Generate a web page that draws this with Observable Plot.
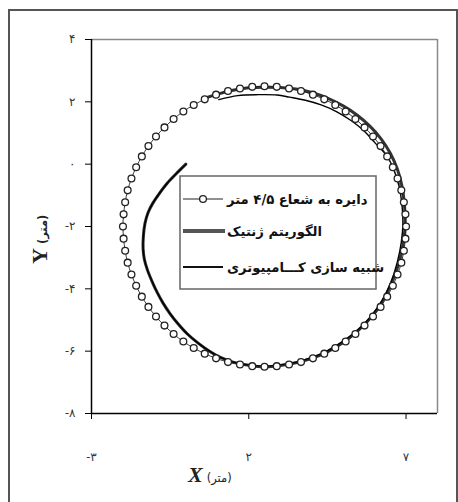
<!DOCTYPE html>
<html><head><meta charset="utf-8">
<script src="https://cdn.jsdelivr.net/npm/d3@7"></script>
<script src="https://cdn.jsdelivr.net/npm/@observablehq/plot@0.6"></script>
<style>html,body{margin:0;padding:0;background:#fff;}</style>
</head><body><div id="chart"></div>
<script>
// Reference circle, radius 4.5 m (markers)
const circleX = [7.00,6.98,6.93,6.85,6.73,6.58,6.40,6.19,5.95,5.68,5.39,5.08,4.75,4.40,4.04,3.66,3.28,2.89,2.50,2.11,1.72,1.34,0.96,0.60,0.25,-0.08,-0.39,-0.68,-0.95,-1.19,-1.40,-1.58,-1.73,-1.85,-1.93,-1.98,-2.00,-1.98,-1.93,-1.85,-1.73,-1.58,-1.40,-1.19,-0.95,-0.68,-0.39,-0.08,0.25,0.60,0.96,1.34,1.72,2.11,2.50,2.89,3.28,3.66,4.04,4.40,4.75,5.08,5.39,5.68,5.95,6.19,6.40,6.58,6.73,6.85,6.93,6.98,7.00];
const circleY = [-2.00,-1.61,-1.22,-0.84,-0.46,-0.10,0.25,0.58,0.89,1.18,1.45,1.69,1.90,2.08,2.23,2.35,2.43,2.48,2.50,2.48,2.43,2.35,2.23,2.08,1.90,1.69,1.45,1.18,0.89,0.58,0.25,-0.10,-0.46,-0.84,-1.22,-1.61,-2.00,-2.39,-2.78,-3.16,-3.54,-3.90,-4.25,-4.58,-4.89,-5.18,-5.45,-5.69,-5.90,-6.08,-6.23,-6.35,-6.43,-6.48,-6.50,-6.48,-6.43,-6.35,-6.23,-6.08,-5.90,-5.69,-5.45,-5.18,-4.89,-4.58,-4.25,-3.90,-3.54,-3.16,-2.78,-2.39,-2.00];

// Genetic algorithm path
const gaX = [0.00,-0.30,-0.60,-0.85,-1.05,-1.20,-1.30,-1.35,-1.36,-1.32,-1.22,-1.08,-0.92,-0.73,-0.50,-0.25,0.05,0.40,0.75,1.10,1.50,2.00,2.50,3.00,3.50,4.00,4.50,5.00,5.50,5.90,6.25,6.55,6.78,6.92,6.97,6.95,6.87,6.72,6.50,6.20,5.85,5.45,5.00,4.50,4.00,3.50,3.00,2.50,2.00,1.50,1.10,0.70];
const gaY = [0.00,-0.30,-0.62,-0.95,-1.25,-1.55,-1.90,-2.30,-2.70,-3.05,-3.40,-3.75,-4.10,-4.45,-4.80,-5.12,-5.45,-5.75,-6.00,-6.20,-6.35,-6.45,-6.50,-6.46,-6.37,-6.23,-6.02,-5.72,-5.32,-4.90,-4.40,-3.80,-3.15,-2.50,-1.90,-1.30,-0.70,-0.15,0.35,0.82,1.22,1.57,1.87,2.12,2.30,2.41,2.46,2.47,2.45,2.37,2.27,2.15];

// Computer simulation path
const simX = [0.00,-0.30,-0.60,-0.85,-1.05,-1.20,-1.30,-1.35,-1.36,-1.32,-1.22,-1.08,-0.92,-0.73,-0.50,-0.25,0.05,0.40,0.75,1.10,1.50,2.00,2.50,3.00,3.50,4.00,4.50,5.00,5.50,5.90,6.25,6.52,6.72,6.85,6.90,6.87,6.78,6.62,6.38,6.00,5.65,5.25,4.80,4.30,3.80,3.30,2.90,2.30,1.65,1.05];
const simY = [0.00,-0.30,-0.62,-0.95,-1.25,-1.55,-1.90,-2.30,-2.70,-3.05,-3.40,-3.75,-4.10,-4.45,-4.80,-5.12,-5.45,-5.75,-6.00,-6.20,-6.35,-6.45,-6.48,-6.44,-6.35,-6.20,-5.98,-5.68,-5.28,-4.86,-4.35,-3.78,-3.15,-2.50,-1.90,-1.30,-0.72,-0.20,0.28,0.70,1.08,1.40,1.68,1.90,2.05,2.15,2.22,2.23,2.20,2.07];

// Ticks
const xTicks = [-3, 2, 7];
const xTickLabels = ["-۳", "۲", "۷"];
const yTicks = [-8, -6, -4, -2, 0, 2, 4];
const yTickLabels = ["-۸", "-۶", "-۴", "-۲", "۰", "۲", "۴"];

// Legend labels
const seriesNames = ["دایره به شعاع ۴/۵ متر", "الگوریتم ژنتیک", "شبیه سازی کـــامپیوتری"];

const circleData = circleX.map((x, i) => ({x, y: circleY[i]}));
const gaData = gaX.map((x, i) => ({x, y: gaY[i]}));
const simData = simX.map((x, i) => ({x, y: simY[i]}));

const plot = Plot.plot({
  width: 458, height: 502,
  marginLeft: 91, marginRight: 21, marginTop: 39, marginBottom: 89,
  x: {domain: [-3, 8]},
  y: {domain: [-8, 4]},
  style: {background: "white", fontFamily: "'Liberation Serif','DejaVu Sans',serif", fontSize: "12px"},
  marks: [
    Plot.ruleY([4], {stroke: "#8a8a8a", strokeWidth: 1.5}),
    Plot.ruleX([8], {stroke: "#8a8a8a", strokeWidth: 1.5}),
    Plot.line(gaData, {x: "x", y: "y", stroke: "#333", strokeWidth: 3, curve: "catmull-rom"}),
    Plot.line(simData, {x: "x", y: "y", stroke: "#000", strokeWidth: 1.4, curve: "catmull-rom"}),
    Plot.line(circleData, {x: "x", y: "y", stroke: "#222", strokeWidth: 0.9, curve: "catmull-rom"}),
    Plot.dot(circleData.slice(0, -1), {x: "x", y: "y", r: 3.4, fill: "white", stroke: "#222", strokeWidth: 1.3}),
    Plot.ruleX([-3], {stroke: "#000", strokeWidth: 1.5}),
    Plot.ruleY([-8], {stroke: "#000", strokeWidth: 1.5}),
    Plot.axisX(xTicks, {tickSize: 6, tickPadding: 33, label: null, fill: "#333", fontSize: 12,
      tickFormat: d => xTickLabels[xTicks.indexOf(d)]}),
    Plot.axisY(yTicks, {tickSize: 6, tickPadding: 10, label: null, fill: "#333", fontSize: 12,
      tickFormat: d => yTickLabels[yTicks.indexOf(d)]})
  ]
});
document.getElementById("chart").appendChild(plot);

const svg = d3.select(plot);
// outer frame
svg.append("rect").attr("x", 9).attr("y", 10).attr("width", 448).attr("height", 520)
  .attr("fill", "none").attr("stroke", "#555").attr("stroke-width", 2);

// legend
const lg = svg.append("g").attr("text-anchor", "start");
lg.append("rect").attr("x", 180).attr("y", 176).attr("width", 196).attr("height", 113)
  .attr("fill", "white").attr("stroke", "#666").attr("stroke-width", 1.5);
const rowsY = [199, 231, 267];
lg.append("line").attr("x1", 183).attr("x2", 223).attr("y1", rowsY[0]).attr("y2", rowsY[0]).attr("stroke", "#222").attr("stroke-width", 1.2);
lg.append("circle").attr("cx", 203).attr("cy", rowsY[0]).attr("r", 3.4).attr("fill", "white").attr("stroke", "#222").attr("stroke-width", 1.3);
lg.append("line").attr("x1", 183).attr("x2", 225).attr("y1", rowsY[1]).attr("y2", rowsY[1]).attr("stroke", "#555").attr("stroke-width", 4);
lg.append("line").attr("x1", 183).attr("x2", 223).attr("y1", rowsY[2]).attr("y2", rowsY[2]).attr("stroke", "#111").attr("stroke-width", 2);
seriesNames.forEach((t, i) => {
  lg.append("text").attr("x", 227).attr("y", rowsY[i]).attr("dy", "0.35em").attr("text-anchor", "start")
    .attr("font-family", "'DejaVu Sans',sans-serif").attr("font-weight", "bold").attr("font-size", 13.2)
    .attr("fill", "#111").text(t);
});

// axis titles
const xt = svg.append("text").attr("x", 188).attr("y", 482).attr("text-anchor", "start").attr("fill", "#222");
xt.append("tspan").attr("font-family", "'Liberation Serif',serif").attr("font-weight", "bold").attr("font-style", "italic").attr("font-size", 22).text("X");
xt.append("tspan").attr("font-family", "'DejaVu Sans',sans-serif").attr("font-size", 11.5).attr("dx", 4).text("(متر)");

const yt = svg.append("text").attr("transform", "translate(47,264) rotate(-90)").attr("text-anchor", "start").attr("fill", "#222");
yt.append("tspan").attr("font-family", "'Liberation Serif',serif").attr("font-weight", "bold").attr("font-size", 22).text("Y");
yt.append("tspan").attr("font-family", "'DejaVu Sans',sans-serif").attr("font-weight", "bold").attr("font-size", 11.5).attr("dx", 4).text("(متر)");
</script>
</body></html>
